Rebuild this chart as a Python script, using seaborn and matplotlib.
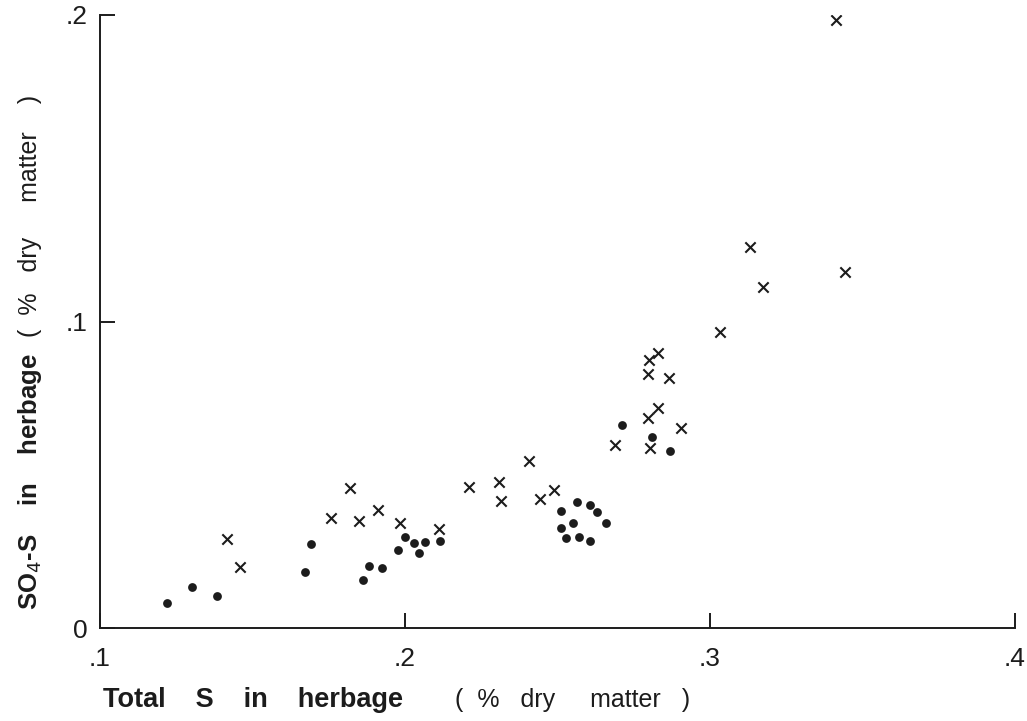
import matplotlib
matplotlib.use("Agg")
import matplotlib.pyplot as plt
import seaborn as sns
import pandas as pd

# Crosses (x symbols)
cross_total_s = [0.1415, 0.1458, 0.1758, 0.1820, 0.1850, 0.1912, 0.1984, 0.2111,
                 0.2209, 0.2307, 0.2314, 0.2408, 0.2444, 0.2487, 0.2690, 0.2804,
                 0.2797, 0.2830, 0.2905, 0.2797, 0.2866, 0.2801, 0.2830, 0.3033,
                 0.3131, 0.3173, 0.3441, 0.3412]
cross_so4_s = [0.0290, 0.0199, 0.0359, 0.0457, 0.0349, 0.0385, 0.0343, 0.0323,
               0.0460, 0.0476, 0.0414, 0.0545, 0.0421, 0.0450, 0.0597, 0.0587,
               0.0685, 0.0718, 0.0653, 0.0829, 0.0816, 0.0874, 0.0897, 0.0966,
               0.1243, 0.1113, 0.1162, 0.1984]

# Dots (filled circles)
dot_total_s = [0.1219, 0.1301, 0.1382, 0.1673, 0.1693, 0.1863, 0.1882, 0.1925,
               0.1977, 0.2000, 0.2029, 0.2046, 0.2065, 0.2114, 0.2513, 0.2565,
               0.2605, 0.2631, 0.2660, 0.2552, 0.2510, 0.2529, 0.2569, 0.2605,
               0.2712, 0.2810, 0.2869]
dot_so4_s = [0.0082, 0.0134, 0.0104, 0.0183, 0.0274, 0.0157, 0.0202, 0.0196,
             0.0254, 0.0297, 0.0277, 0.0245, 0.0281, 0.0284, 0.0382, 0.0411,
             0.0401, 0.0378, 0.0343, 0.0343, 0.0326, 0.0294, 0.0297, 0.0284,
             0.0662, 0.0623, 0.0577]

x_ticks = [0.1, 0.2, 0.3, 0.4]
x_tick_labels = [".1", ".2", ".3", ".4"]
y_ticks = [0.0, 0.1, 0.2]
y_tick_labels = ["0", ".1", ".2"]

sns.set_style("ticks")
plt.rcParams["font.family"] = ["Liberation Sans", "DejaVu Sans"]

ink = "#1c1c1c"
fig = plt.figure(figsize=(10.27, 7.21), dpi=100)
ax = fig.add_axes([100 / 1027, 1 - 628 / 721, 915 / 1027, 613 / 721])

df_x = pd.DataFrame({"total": cross_total_s, "so4": cross_so4_s})
df_o = pd.DataFrame({"total": dot_total_s, "so4": dot_so4_s})

sns.scatterplot(data=df_x, x="total", y="so4", marker="x", s=55, color=ink,
                linewidth=1.5, ax=ax, zorder=3)
sns.scatterplot(data=df_o, x="total", y="so4", marker="o", s=40, color=ink,
                edgecolor=ink, linewidth=0, ax=ax, zorder=3)

ax.set_xlim(0.101, 0.4)
ax.set_ylim(0, 0.2)
ax.set_xticks(x_ticks)
ax.set_xticklabels(x_tick_labels)
ax.set_yticks(y_ticks)
ax.set_yticklabels(y_tick_labels)

for side in ["top", "right"]:
    ax.spines[side].set_visible(False)
for side in ["left", "bottom"]:
    ax.spines[side].set_color(ink)
    ax.spines[side].set_linewidth(1.4)

ax.tick_params(axis="x", direction="in", length=11, width=1.4, color=ink,
               pad=14, labelsize=19, labelcolor=ink, bottom=True)
ax.tick_params(axis="y", direction="in", length=11, width=1.4, color=ink,
               pad=9, labelsize=19, labelcolor=ink, left=True)
ax.grid(False)

# x-axis label: bold part as the axis label, unit part as plain text
ax.set_xlabel("Total    S    in    herbage", fontsize=19.5, fontweight="bold",
              color=ink, ha="left", va="center")
ax.xaxis.set_label_coords(0.003, -0.117)
ax.text(0.388, -0.117, "(  %   dry     matter   )", transform=ax.transAxes,
        fontsize=18, color=ink, ha="left", va="center")

# y-axis label
ax.set_ylabel("SO$_4$-S    in    herbage", fontsize=18.5, fontweight="bold",
              color=ink, va="center", ha="left")
ax.yaxis.set_label_coords(-0.077, 0.03)
ax.text(-0.077, 0.475, "(  %   dry     matter    )", transform=ax.transAxes,
        fontsize=18, color=ink, ha="center", va="bottom", rotation=90)

fig.savefig("out.png", dpi=100, facecolor="white")
